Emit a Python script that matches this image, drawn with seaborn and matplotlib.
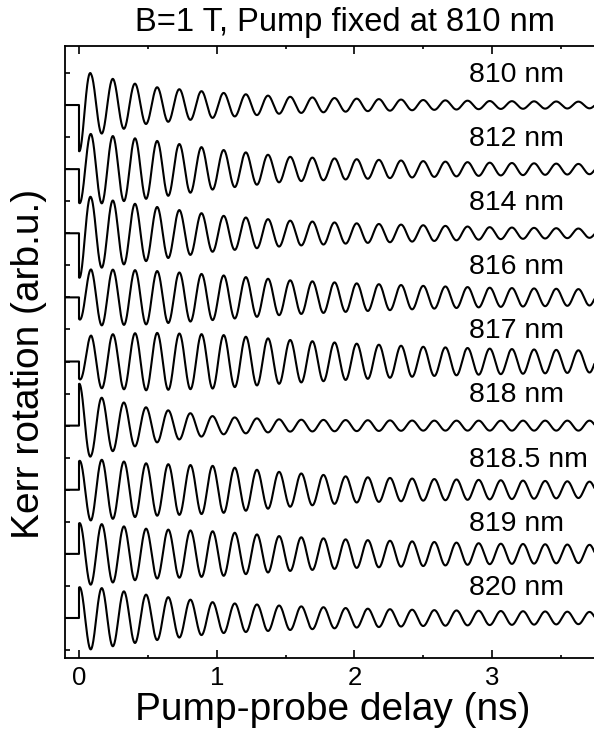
import numpy as np
import pandas as pd
import matplotlib
matplotlib.use("Agg")
import matplotlib.pyplot as plt
import seaborn as sns

# ---------------- data ----------------
labels = ["810 nm", "812 nm", "814 nm", "816 nm", "817 nm",
          "818 nm", "818.5 nm", "819 nm", "820 nm"]
# sign of the first oscillation lobe after t = 0
first_sign = [1, 1, 1, 1, 1, -1, -1, -1, -1]
# precession period (ns) and time of the first extremum (ns)
period_ns = 0.161
first_extremum_ns = 0.085
# envelope amplitude (arb.u.) read at these delays (ns)
env_times = [0.0, 0.09, 0.5, 1.0, 1.5, 2.0, 2.5, 3.0, 3.75]
env_810 = [0.73, 0.48, 0.29, 0.195, 0.13, 0.10, 0.078, 0.062, 0.051]
env_812 = [0.53, 0.55, 0.46, 0.31, 0.195, 0.156, 0.125, 0.10, 0.078]
env_814 = [0.70, 0.56, 0.43, 0.28, 0.20, 0.156, 0.125, 0.094, 0.07]
env_816 = [0.34, 0.44, 0.42, 0.35, 0.27, 0.22, 0.18, 0.15, 0.125]
env_817 = [0.27, 0.41, 0.45, 0.42, 0.34, 0.28, 0.23, 0.20, 0.17]
env_818 = [0.66, 0.47, 0.28, 0.14, 0.094, 0.086, 0.078, 0.078, 0.078]
env_8185 = [0.45, 0.48, 0.41, 0.37, 0.27, 0.20, 0.17, 0.15, 0.125]
env_819 = [0.48, 0.48, 0.39, 0.35, 0.27, 0.22, 0.19, 0.16, 0.14]
env_820 = [0.48, 0.49, 0.36, 0.24, 0.19, 0.15, 0.125, 0.11, 0.094]
envelopes = [env_810, env_812, env_814, env_816, env_817,
             env_818, env_8185, env_819, env_820]
x_ticks = [0, 1, 2, 3]
title = "B=1 T, Pump fixed at 810 nm"
xlabel = "Pump-probe delay (ns)"
ylabel = "Kerr rotation (arb.u.)"

# ---------------- build long table ----------------
t_pre = np.array([-0.12, -1e-4])
t_post = np.arange(0.0, 3.80, 0.002)
rows = []
n = len(labels)
for i, (lab, sgn, env) in enumerate(zip(labels, first_sign, envelopes)):
    offset = n - 1 - i
    a = np.interp(t_post, env_times, env)
    y_post = sgn * a * np.cos(2 * np.pi * (t_post - first_extremum_ns) / period_ns)
    t = np.concatenate([t_pre, t_post])
    y = np.concatenate([np.zeros_like(t_pre), y_post]) + offset
    rows.append(pd.DataFrame({"delay": t, "kerr": y, "trace": lab}))
df = pd.concat(rows, ignore_index=True)

# ---------------- plot ----------------
sns.set_style("ticks")
plt.rcParams["font.family"] = ["Liberation Sans", "DejaVu Sans"]
plt.rcParams["text.color"] = "black"
plt.rcParams["axes.labelcolor"] = "black"
plt.rcParams["xtick.color"] = "black"
plt.rcParams["ytick.color"] = "black"
plt.rcParams["axes.edgecolor"] = "black"

W, H = 594, 733
fig = plt.figure(figsize=(W / 100, H / 100), dpi=100)
ax_l, ax_r, ax_t, ax_b = 65, 594, 46, 658
ax = fig.add_axes([ax_l / W, 1 - ax_b / H, (ax_r - ax_l) / W, (ax_b - ax_t) / H])

sns.lineplot(data=df, x="delay", y="kerr", hue="trace",
             palette={l: "black" for l in labels}, estimator=None, sort=False,
             legend=False, linewidth=1.5, ax=ax)

ax.set_xlim(-0.1017, 3.74)
ax.set_ylim(-0.624, 8.0 + (105 - ax_t) / 64.1)

for i, lab in enumerate(labels):
    ax.text(2.83, n - 1 - i + 0.47, lab, fontsize=20.5, ha="left", va="center",
            color="black")

ax.set_xticks(x_ticks)
ax.set_xticklabels([str(v) for v in x_ticks])
ax.set_xticks([0.5, 1.5, 2.5, 3.5], minor=True)
ax.set_yticks(np.arange(-0.5, 8.6, 0.5))
ax.set_yticklabels([])
ax.tick_params(axis="x", which="major", direction="in", length=6, width=1.2,
               top=True, labelsize=18.5, pad=6, colors="black")
ax.tick_params(axis="x", which="minor", direction="in", length=2.5, width=1.2,
               top=True, colors="black")
ax.tick_params(axis="y", which="major", direction="in", length=3.5, width=1.2,
               left=True, right=False, colors="black")
for s in ["left", "bottom", "top"]:
    ax.spines[s].set_linewidth(1.3)
    ax.spines[s].set_color("black")
ax.spines["right"].set_visible(False)

ax.set_xlabel(xlabel, fontsize=28, color="black")
ax.xaxis.set_label_coords((333 - ax_l) / (ax_r - ax_l), (ax_b - 720) / (ax_b - ax_t))
ax.xaxis.label.set_va("baseline")
ax.set_ylabel(ylabel, fontsize=28, color="black")
ax.yaxis.set_label_coords((29 - ax_l) / (ax_r - ax_l), (ax_b - 364) / (ax_b - ax_t))
ax.yaxis.label.set_va("center")
ax.yaxis.label.set_ha("center")

ax.text((345 - ax_l) / (ax_r - ax_l), (ax_b - 31) / (ax_b - ax_t), title,
        transform=ax.transAxes, fontsize=23.5, ha="center", va="baseline",
        color="black")

fig.savefig("out.png", dpi=100)
